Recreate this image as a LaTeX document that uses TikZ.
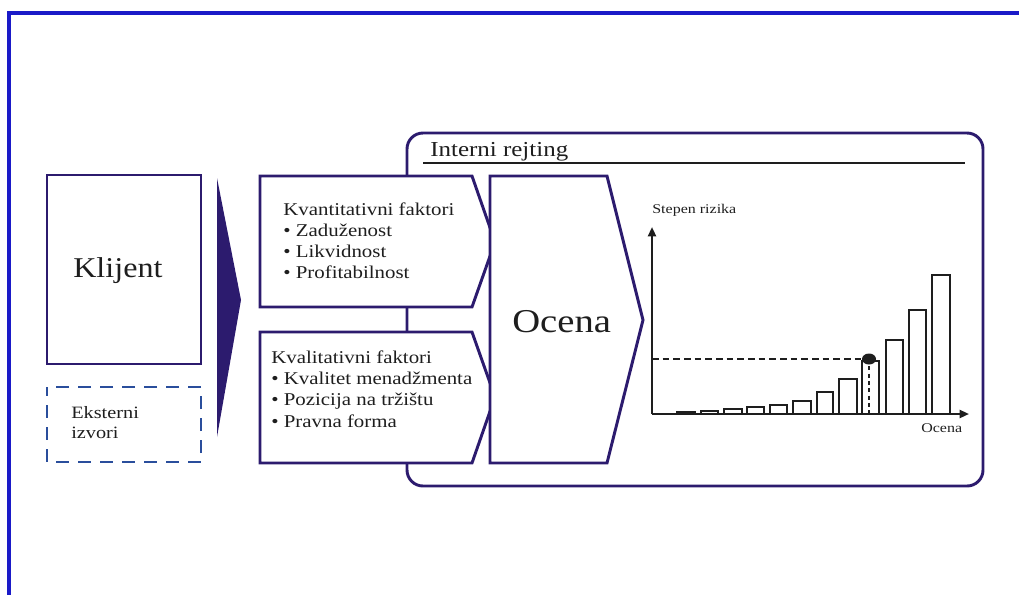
\documentclass[tikz,border=0pt]{standalone}
\usepackage{fontspec}
\usetikzlibrary{arrows.meta}
\setmainfont{Liberation Serif}
\definecolor{navy}{HTML}{2C1B6E}
\definecolor{frameblue}{HTML}{1A1AC8}
\definecolor{dashblue}{HTML}{2A4E9C}
\definecolor{ink}{HTML}{1E1E1E}
\begin{document}
\begin{tikzpicture}[x=0.75pt,y=-0.75pt,
  navybox/.style={draw=navy, line width=2.2pt, fill=white, line join=miter},
  label/.style={anchor=base west, inner sep=0pt, text=ink},
  body/.style={label, xscale=1.16, font=\fontsize{13.5}{15}\selectfont},
  small/.style={label, xscale=1.2, font=\fontsize{10}{11}\selectfont},
  bar/.style={draw=ink, line width=1.1pt, fill=white},
  axis/.style={ink, line width=1.6pt, -{Triangle[length=7pt,width=6pt]}}]
\useasboundingbox (0,0) rectangle (1019,594);

% outer frame
\draw[frameblue, line width=2.4pt] (9,600) -- (9,13) -- (1019,13);

% "Interni rejting" panel
\draw[navy, line width=2.2pt, rounded corners=12pt] (407,133) rectangle (983,486);
\node[label, xscale=1.17, font=\fontsize{16}{18}\selectfont] (ir) at (430,156) {Interni rejting};
\draw[ink, line width=1pt] (423,163) -- (965,163);

% client
\draw[navybox] (47,175) rectangle (201,364);
\node[label, xscale=1.12, font=\fontsize{21.5}{24}\selectfont] (klijent) at (73,277) {Klijent};

% external sources
\draw[dashblue, line width=2.2pt, dash pattern=on 9.5pt off 7pt, dash phase=3pt] (47,387) rectangle (201,462);
\node[label, xscale=1.17, font=\fontsize{13}{15}\selectfont] (eks1) at (71,418) {Eksterni};
\node[label, xscale=1.17, font=\fontsize{13}{15}\selectfont] (eks2) at (71,438) {izvori};

% big arrow wedge
\fill[navy] (217,178) -- (241,300) -- (217,437) -- cycle;

% quantitative factors
\draw[navybox] (260,176) -- (472,176) -- (495,242) -- (472,307) -- (260,307) -- cycle;
\node[body] (kv0) at (283,215) {Kvantitativni faktori};
\node[body] (kv1) at (283,236) {• Zaduženost};
\node[body] (kv2) at (283,257) {• Likvidnost};
\node[body] (kv3) at (283,278) {• Profitabilnost};

% qualitative factors
\draw[navybox] (260,332) -- (472,332) -- (495,397) -- (472,463) -- (260,463) -- cycle;
\node[body] (kl0) at (271,363) {Kvalitativni faktori};
\node[body] (kl1) at (271,384) {• Kvalitet menadžmenta};
\node[body] (kl2) at (271,405) {• Pozicija na tržištu};
\node[body] (kl3) at (271,427) {• Pravna forma};

% score
\draw[navybox] (490,176) -- (607,176) -- (643,320) -- (607,463) -- (490,463) -- cycle;
\node[label, xscale=1.16, font=\fontsize{25}{28}\selectfont] (ocena) at (512,332) {Ocena};

% chart
\node[small] (yl) at (652,213) {Stepen rizika};
\node[small] (xl) at (921,432) {Ocena};
\coordinate (o) at (652,414);
\coordinate (ytip) at (652,227);
\coordinate (xtip) at (969,414);
\foreach \xa/\xb/\t in {677/695/412, 701/718/411, 724/742/409, 747/764/407, 770/787/405,
                         793/811/401, 817/833/392, 839/857/379, 862/879/361, 886/903/340,
                         909/926/310, 932/950/275}
  \draw[bar] (\xa,414) rectangle (\xb,\t);
\draw[axis] (o) -- (ytip);
\draw[axis] (o) -- (xtip);
\coordinate (pt) at (869,359);
\draw[ink, line width=1pt, dash pattern=on 5pt off 3pt] (o |- pt) -- (pt);
\draw[ink, line width=1.2pt, dash pattern=on 3pt off 2.5pt] (pt) -- (pt |- o);
\fill[ink] (pt) ellipse [x radius=7, y radius=5.5];
\end{tikzpicture}
\end{document}
